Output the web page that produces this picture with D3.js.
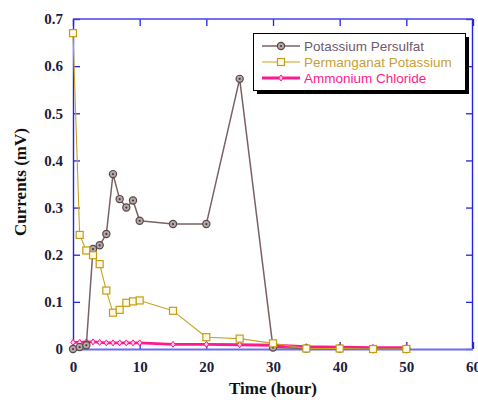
<!DOCTYPE html>
<html>
<head>
<meta charset="utf-8">
<script src="https://cdn.jsdelivr.net/npm/d3@7"></script>
<style>
  html, body { margin: 0; padding: 0; background: #fff; }
  svg { display: block; }
</style>
</head>
<body>
<svg id="chart" width="478" height="400"></svg>
<script>
// Time axis (hours) shared by all three series
const hours = [0, 1, 2, 3, 4, 5, 6, 7, 8, 9, 10, 15, 20, 25, 30, 35, 40, 45, 50];

// Current readings (mV) for each electrolyte
const persulfat   = [0, 0.004, 0.008, 0.212, 0.220, 0.244, 0.371, 0.318, 0.300, 0.315, 0.272, 0.265, 0.265, 0.573, 0.003, 0.001, 0.001, 0, 0];
const permanganat = [0.670, 0.242, 0.209, 0.199, 0.180, 0.124, 0.077, 0.083, 0.098, 0.101, 0.103, 0.081, 0.025, 0.022, 0.012, 0.001, 0.001, 0, 0];
const ammonium    = [0.014, 0.014, 0.015, 0.015, 0.014, 0.013, 0.013, 0.013, 0.013, 0.013, 0.013, 0.010, 0.010, 0.009, 0.008, 0.005, 0.004, 0.003, 0.003];

const seriesNames = ["Potassium Persulfat", "Permanganat Potassium", "Ammonium Chloride"];
const xTicks = [0, 10, 20, 30, 40, 50, 60];
const yTicks = [0, 0.1, 0.2, 0.3, 0.4, 0.5, 0.6, 0.7];

const svg = d3.select("#chart");
const plotLeft = 73, plotRight = 473, plotTop = 19, plotBottom = 349;

const x = d3.scaleLinear().domain([0, 60]).range([plotLeft, plotRight]);
const y = d3.scaleLinear().domain([0, 0.7]).range([plotBottom, plotTop]);

const axisBlue = "#2323e0";
const labelColor = "#1c1c3c";

// Axes: ticks point inward on all four sides
function styleAxis(g, withText) {
  g.select(".domain").remove();
  g.selectAll(".tick line").attr("stroke", axisBlue).attr("stroke-width", 1.3);
  if (withText) {
    g.selectAll(".tick text")
      .attr("fill", labelColor)
      .style("font-family", "'Liberation Serif', 'Times New Roman', serif")
      .style("font-weight", "bold")
      .style("font-size", "15px");
  }
}

svg.append("g").attr("transform", `translate(0,${plotBottom})`)
  .call(d3.axisBottom(x).tickValues(xTicks).tickSize(-7).tickPadding(12).tickFormat(d3.format("d")))
  .call(g => styleAxis(g, true));

svg.append("g").attr("transform", `translate(${plotLeft},0)`)
  .call(d3.axisLeft(y).tickValues(yTicks).tickSize(-7).tickPadding(10)
    .tickFormat(d => d === 0 ? "0" : d3.format(".1f")(d)))
  .call(g => styleAxis(g, true));

svg.append("g").attr("transform", `translate(0,${plotTop})`)
  .call(d3.axisTop(x).tickValues(xTicks).tickSize(-7).tickFormat(""))
  .call(g => styleAxis(g, false));

svg.append("g").attr("transform", `translate(${plotRight},0)`)
  .call(d3.axisRight(y).tickValues(yTicks).tickSize(-7).tickFormat(""))
  .call(g => styleAxis(g, false));

// Frame
svg.append("line").attr("x1", x(0) + 0.5).attr("x2", x(0) + 0.5).attr("y1", y(0.7)).attr("y2", y(0))
  .attr("stroke", axisBlue).attr("stroke-width", 1.4);
svg.append("line").attr("x1", x(60) - 0.5).attr("x2", x(60) - 0.5).attr("y1", y(0.7)).attr("y2", y(0))
  .attr("stroke", axisBlue).attr("stroke-width", 1.4);
svg.append("line").attr("x1", x(0)).attr("x2", x(60)).attr("y1", y(0.7)).attr("y2", y(0.7))
  .attr("stroke", "#4545e8").attr("stroke-width", 1.6);
svg.append("line").attr("x1", x(0)).attr("x2", x(60)).attr("y1", y(0) + 0.5).attr("y2", y(0) + 0.5)
  .attr("stroke", "#6c6cf0").attr("stroke-width", 2);

// Axis titles
svg.append("text")
  .attr("x", 273).attr("y", 394)
  .attr("text-anchor", "middle")
  .style("font-family", "'Liberation Serif', 'Times New Roman', serif")
  .style("font-weight", "bold").style("font-size", "17px")
  .attr("fill", "#111")
  .text("Time (hour)");

svg.append("text")
  .attr("transform", "translate(26,182) rotate(-90)")
  .attr("text-anchor", "middle")
  .style("font-family", "'Liberation Serif', 'Times New Roman', serif")
  .style("font-weight", "bold").style("font-size", "17px")
  .attr("fill", "#111")
  .text("Currents (mV)");

// Series definitions
const series = [
  { name: seriesNames[0], values: persulfat, line: "#7a6262", width: 1.5, marker: "circle", text: "#6e5a70" },
  { name: seriesNames[1], values: permanganat, line: "#c9a326", width: 1.1, marker: "square", text: "#c9a032" },
  { name: seriesNames[2], values: ammonium, line: "#ff1a8c", width: 2.8, marker: "diamond", text: "#ff1a8c" }
];

const lineGen = d3.line().x(d => x(d[0])).y(d => y(d[1]));

function drawMarker(g, kind, cx, cy) {
  if (kind === "circle") {
    g.append("circle").attr("cx", cx).attr("cy", cy).attr("r", 3.6)
      .attr("fill", "#b4aaaa").attr("stroke", "#5a4646").attr("stroke-width", 1.2);
    g.append("circle").attr("cx", cx).attr("cy", cy).attr("r", 1.1).attr("fill", "#4a3838");
  } else if (kind === "square") {
    g.append("rect").attr("x", cx - 3.5).attr("y", cy - 3.5).attr("width", 7).attr("height", 7)
      .attr("fill", "#fffbe8").attr("stroke", "#c49c14").attr("stroke-width", 1.2);
  } else {
    g.append("path")
      .attr("d", `M${cx},${cy - 3}L${cx + 2.2},${cy}L${cx},${cy + 3}L${cx - 2.2},${cy}Z`)
      .attr("fill", "#ffd0e8").attr("stroke", "#ff1a8c").attr("stroke-width", 1);
  }
}

// Draw order: ammonium underneath, persulfat, permanganat on top
[series[2], series[0], series[1]].forEach(s => {
  const pts = hours.map((h, i) => [h, s.values[i]]);
  svg.append("path").datum(pts)
    .attr("d", lineGen)
    .attr("fill", "none")
    .attr("stroke", s.line)
    .attr("stroke-width", s.width)
    .attr("stroke-linejoin", "round");
  const mg = svg.append("g");
  pts.forEach(p => drawMarker(mg, s.marker, x(p[0]), y(p[1])));
});

// Legend with drop shadow
const lg = svg.append("g");
lg.append("rect").attr("x", 257).attr("y", 37).attr("width", 212).attr("height", 57).attr("fill", "#000");
lg.append("rect").attr("x", 253.5).attr("y", 33.5).attr("width", 212).attr("height", 57)
  .attr("fill", "#fff").attr("stroke", "#000").attr("stroke-width", 1);

series.forEach((s, i) => {
  const cy = 46 + i * 16;
  lg.append("line").attr("x1", 262).attr("x2", 300).attr("y1", cy).attr("y2", cy)
    .attr("stroke", s.line).attr("stroke-width", s.width);
  drawMarker(lg, s.marker, 281, cy);
  lg.append("text")
    .attr("x", 304).attr("y", cy + 4.5)
    .style("font-family", "'Liberation Sans', Arial, sans-serif")
    .style("font-size", "13.5px")
    .attr("fill", s.text)
    .text(s.name);
});
</script>
</body>
</html>
